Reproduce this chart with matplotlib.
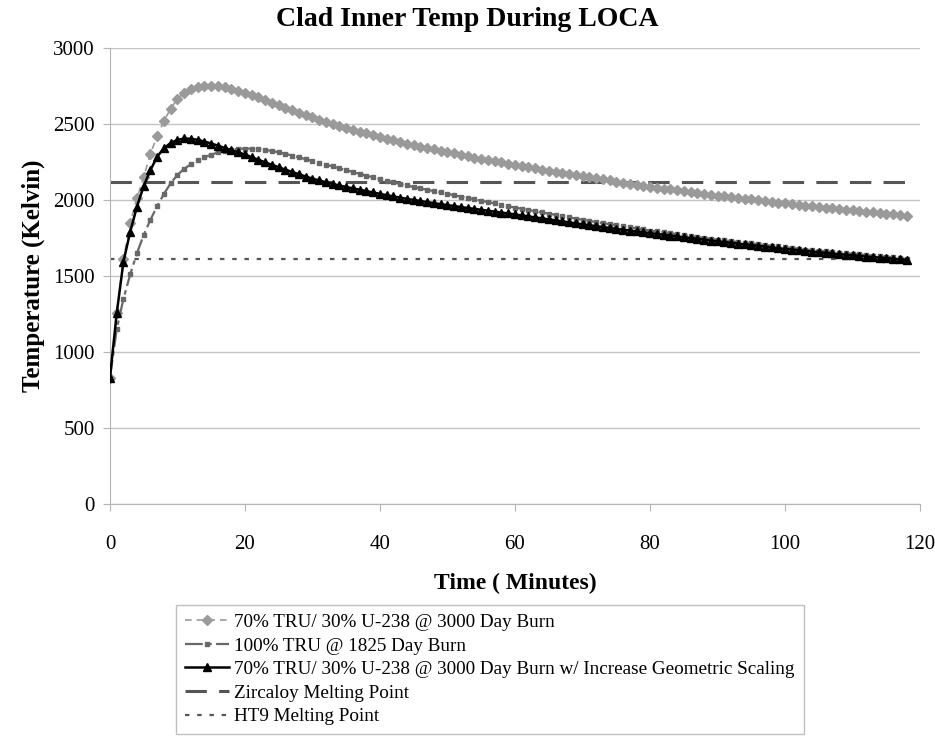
import numpy as np
import matplotlib
matplotlib.use("Agg")
import matplotlib.pyplot as plt

plt.rcParams['font.family'] = ['Liberation Serif', 'DejaVu Serif']

# time in minutes
t = list(range(119))

# 70% TRU / 30% U-238 @ 3000 day burn
burn3000 = [832, 1260, 1610, 1850, 2010, 2150, 2305, 2420, 2520, 2600,
            2665, 2705, 2730, 2745, 2752, 2752, 2748, 2740, 2730, 2718,
            2705, 2690, 2674, 2657, 2640, 2623, 2606, 2590, 2574, 2558,
            2543, 2528, 2514, 2500, 2487, 2474, 2461, 2449, 2437, 2425,
            2414, 2403, 2392, 2381, 2371, 2361, 2351, 2342, 2333, 2324,
            2315, 2306, 2297, 2288, 2279, 2271, 2263, 2255, 2247, 2239,
            2231, 2223, 2215, 2207, 2199, 2191, 2184, 2177, 2170, 2163,
            2156, 2149, 2142, 2135, 2128, 2121, 2114, 2107, 2100, 2093,
            2087, 2081, 2075, 2069, 2063, 2057, 2051, 2045, 2040, 2034,
            2029, 2023, 2018, 2013, 2008, 2003, 1998, 1993, 1988, 1983,
            1978, 1973, 1968, 1963, 1958, 1954, 1949, 1944, 1940, 1935,
            1931, 1926, 1922, 1918, 1913, 1909, 1905, 1901, 1897]

# 100% TRU @ 1825 day burn
burn1825 = [832, 1150, 1350, 1510, 1650, 1770, 1870, 1960, 2040, 2110,
            2165, 2205, 2235, 2260, 2280, 2298, 2312, 2323, 2331, 2336,
            2338, 2337, 2334, 2329, 2322, 2313, 2303, 2292, 2280, 2268,
            2256, 2244, 2232, 2220, 2208, 2196, 2184, 2172, 2160, 2148,
            2137, 2126, 2115, 2105, 2095, 2085, 2076, 2067, 2058, 2049,
            2040, 2031, 2022, 2013, 2004, 1995, 1986, 1977, 1968, 1959,
            1950, 1942, 1934, 1926, 1918, 1910, 1902, 1894, 1886, 1878,
            1870, 1862, 1855, 1848, 1841, 1834, 1827, 1820, 1813, 1806,
            1799, 1793, 1787, 1781, 1775, 1769, 1763, 1757, 1751, 1745,
            1739, 1734, 1729, 1724, 1719, 1714, 1709, 1704, 1699, 1694,
            1689, 1684, 1679, 1674, 1670, 1666, 1662, 1658, 1654, 1650,
            1646, 1642, 1638, 1634, 1630, 1626, 1622, 1618, 1614]

# 70% TRU / 30% U-238 @ 3000 day burn, increased geometric scaling
geom = [832, 1254, 1594, 1791, 1956, 2092, 2197, 2285, 2340, 2375,
        2395, 2404, 2402, 2395, 2384, 2371, 2357, 2342, 2327, 2313,
        2299, 2281, 2264, 2247, 2231, 2215, 2199, 2184, 2169, 2154,
        2140, 2128, 2116, 2105, 2095, 2085, 2076, 2067, 2058, 2049,
        2040, 2031, 2023, 2015, 2007, 2000, 1993, 1986, 1979, 1972,
        1966, 1960, 1953, 1947, 1941, 1935, 1929, 1923, 1917, 1911,
        1905, 1898, 1892, 1885, 1879, 1872, 1866, 1859, 1853, 1846,
        1840, 1834, 1828, 1822, 1816, 1810, 1804, 1799, 1793, 1788,
        1782, 1777, 1771, 1766, 1760, 1755, 1750, 1744, 1739, 1733,
        1728, 1723, 1718, 1713, 1708, 1703, 1698, 1693, 1688, 1683,
        1678, 1674, 1669, 1665, 1660, 1656, 1652, 1648, 1644, 1640,
        1636, 1632, 1628, 1624, 1621, 1617, 1613, 1610, 1606]

zircaloy_mp = 2120
ht9_mp = 1610

labels = ["70% TRU/ 30% U-238 @ 3000 Day Burn",
          "100% TRU @ 1825 Day Burn",
          "70% TRU/ 30% U-238 @ 3000 Day Burn w/ Increase Geometric Scaling",
          "Zircaloy Melting Point",
          "HT9 Melting Point"]

fig = plt.figure(figsize=(9.35, 7.36), dpi=100)
ax = fig.add_axes([0.1176, 0.315, 0.8664, 0.62])

ax.plot(t, burn3000, color='#9a9a9a', ls=(0, (4, 3)), lw=1.2, marker='D',
        ms=5.5, mec='#9a9a9a', label=labels[0], zorder=3)
ax.plot(t, burn1825, color='#686868', ls=(0, (8, 2, 2, 2)), lw=1.6, marker='s',
        ms=3, mec='#686868', label=labels[1], zorder=3)
ax.plot(t, geom, color='black', ls='-', lw=1.8, marker='^', ms=6,
        label=labels[2], zorder=4)
ax.plot(t, [zircaloy_mp] * len(t), color='#555555', ls=(0, (7, 4)), lw=2.2,
        label=labels[3], zorder=2)
ax.plot(t, [ht9_mp] * len(t), color='#555555', ls=(0, (2, 3.5)), lw=1.6,
        label=labels[4], zorder=2)

ax.set_xlim(0, 120)
ax.set_ylim(0, 3000)
ax.set_xticks(range(0, 121, 20))
ax.set_yticks(range(0, 3001, 500))
ax.yaxis.grid(True, color='#c4c4c4', lw=1)
ax.set_axisbelow(True)
for s in ['top', 'right']:
    ax.spines[s].set_visible(False)
for s in ['left', 'bottom']:
    ax.spines[s].set_color('#b4b4b4')
ax.tick_params(axis='both', colors='#b4b4b4', labelcolor='black',
               labelsize=15, length=5)
ax.tick_params(axis='x', pad=17)
ax.tick_params(axis='y', pad=6)

fig.text(0.5, 1 - 19 / 736, "Clad Inner Temp During LOCA", fontsize=20,
         fontweight='bold', ha='center', va='center')
ax.set_xlabel("Time ( Minutes)", fontsize=17, fontweight='bold', labelpad=14)
ax.set_ylabel("Temperature (Kelvin)", fontsize=18, fontweight='bold', labelpad=6)

leg = fig.legend(loc='upper left', bbox_to_anchor=(176 / 935, 1 - 605 / 736),
                 borderaxespad=0, fontsize=13.8, frameon=True, fancybox=False,
                 handlelength=2.3, labelspacing=0.32, borderpad=0.45,
                 handletextpad=0.3)
leg.get_frame().set_edgecolor('#b0b0b0')
leg.get_frame().set_linewidth(1)

fig.savefig("out.png", dpi=100)
